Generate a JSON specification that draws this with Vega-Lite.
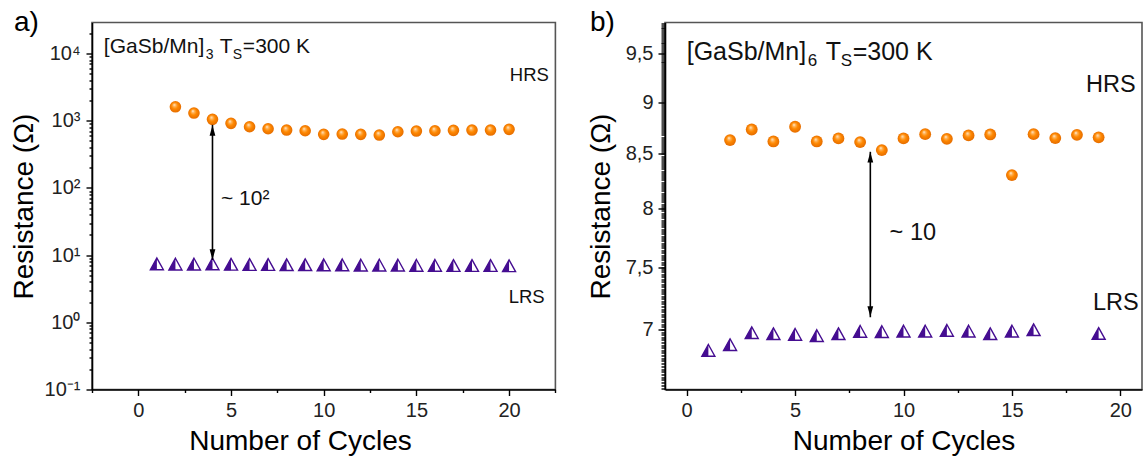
{
  "$schema": "https://vega.github.io/schema/vega-lite/v6.json",
  "background": "white",
  "padding": {"left": 9, "top": 7.5, "right": 0, "bottom": 0},
  "config": {
    "font": "Liberation Sans",
    "view": {"stroke": "#555", "strokeWidth": 1.6},
    "axis": {"grid": false, "domainColor": "#000", "domainWidth": 1.6, "tickColor": "#000", "tickWidth": 1.4, "labelFont": "Liberation Sans", "labelFontSize": 20, "labelColor": "#222", "titleFont": "Liberation Sans", "titleFontSize": 28, "titleFontWeight": "normal", "titleColor": "#000", "labelOverlap": false, "labelFlush": false, "labelBound": false},
    "concat": {"spacing": 29}
  },
  "datasets": {
    "a_hrs": [{"cycle":2,"R":1615},{"cycle":3,"R":1302},{"cycle":4,"R":1049},{"cycle":5,"R":915},{"cycle":6,"R":814},{"cycle":7,"R":760},{"cycle":8,"R":727},{"cycle":9,"R":710},{"cycle":10,"R":628},{"cycle":11,"R":634},{"cycle":12,"R":628},{"cycle":13,"R":613},{"cycle":14,"R":686},{"cycle":15,"R":703},{"cycle":16,"R":710},{"cycle":17,"R":720},{"cycle":18,"R":727},{"cycle":19,"R":727},{"cycle":20,"R":745}],
    "a_lrs": [{"cycle":1,"R":7.4},{"cycle":2,"R":7.35},{"cycle":3,"R":7.35},{"cycle":4,"R":7.4},{"cycle":5,"R":7.3},{"cycle":6,"R":7.25},{"cycle":7,"R":7.25},{"cycle":8,"R":7.2},{"cycle":9,"R":7.2},{"cycle":10,"R":7.15},{"cycle":11,"R":7.15},{"cycle":12,"R":7.1},{"cycle":13,"R":7.1},{"cycle":14,"R":7.1},{"cycle":15,"R":7.05},{"cycle":16,"R":7.05},{"cycle":17,"R":7.0},{"cycle":18,"R":7.0},{"cycle":19,"R":7.0},{"cycle":20,"R":6.95}],
    "a_arrow": [{"cycle":4,"R":8.5,"R2":870}],
    "a_heads": [{"cycle":4,"R":714,"dir":"up"},{"cycle":4,"R":10.2,"dir":"down"}],
    "a_states": [{"cycle":20.04,"R":4786,"label":"HRS"},{"cycle":19.98,"R":2.38,"label":"LRS"}],
    "a_ratio": [{"cycle":4.46,"R":68.4,"label":"~ 10²"}],
    "a_tag": [{"cycle":-6.71,"R":28440,"label":"a)"}],
    "a_title": [{"cycle":-1.86,"R":12490,"main":"[GaSb/Mn]","n":"3","t":"T","s":"S","rest":"=300 K"}],
    "b_hrs": [{"cycle":2,"R":8.631},{"cycle":3,"R":8.733},{"cycle":4,"R":8.618},{"cycle":5,"R":8.759},{"cycle":6,"R":8.618},{"cycle":7,"R":8.647},{"cycle":8,"R":8.612},{"cycle":9,"R":8.536},{"cycle":10,"R":8.647},{"cycle":11,"R":8.688},{"cycle":12,"R":8.643},{"cycle":13,"R":8.676},{"cycle":14,"R":8.685},{"cycle":15,"R":8.303},{"cycle":16,"R":8.688},{"cycle":17,"R":8.65},{"cycle":18,"R":8.681},{"cycle":19,"R":8.657}],
    "b_lrs": [{"cycle":1,"R":6.84},{"cycle":2,"R":6.883},{"cycle":3,"R":6.975},{"cycle":4,"R":6.967},{"cycle":5,"R":6.962},{"cycle":6,"R":6.952},{"cycle":7,"R":6.967},{"cycle":8,"R":6.985},{"cycle":9,"R":6.983},{"cycle":10,"R":6.987},{"cycle":11,"R":6.987},{"cycle":12,"R":6.993},{"cycle":13,"R":6.987},{"cycle":14,"R":6.967},{"cycle":15,"R":6.987},{"cycle":16,"R":6.998},{"cycle":19,"R":6.969}],
    "b_arrow": [{"cycle":8.47,"R":7.095,"R2":8.52}],
    "b_heads": [{"cycle":8.47,"R":8.469,"dir":"up"},{"cycle":8.47,"R":7.14,"dir":"down"}],
    "b_states": [{"cycle":18.42,"R":9.172,"label":"HRS"},{"cycle":18.74,"R":7.211,"label":"LRS"}],
    "b_ratio": [{"cycle":9.36,"R":7.784,"label":"~ 10"}],
    "b_tag": [{"cycle":-4.46,"R":9.824,"label":"b)"}],
    "b_title": [{"cycle":0,"R":9.51,"main":"[GaSb/Mn]","n":"6","t":"T","s":"S","rest":"=300 K"}]
  },
  "hconcat": [
    {
      "width": 463.4,
      "height": 367,
      "resolve": {"scale": {"x": "independent", "y": "independent"}},
      "layer": [
        {
          "encoding": {
            "x": {"field": "cycle", "type": "quantitative", "scale": {"domain": [-2.5, 22.5], "nice": false, "zero": false},
              "axis": {"title": "Number of Cycles", "titleX": 208, "titlePadding": 7, "labelPadding": 5, "tickSize": 6, "values": [0, 5, 10, 15, 20], "format": "d"}},
            "y": {"field": "R", "type": "quantitative", "scale": {"type": "log", "domain": [0.1, 29000], "nice": false},
              "axis": {"title": "Resistance (Ω)", "titlePadding": 6.5, "minExtent": 47, "maxExtent": 47, "labelPadding": 6, "tickSize": 6,
                "values": [0.1, 1, 10, 100, 1000, 10000],
                "labelExpr": "datum.value === 10000 ? '10⁴' : datum.value === 1000 ? '10³' : datum.value === 100 ? '10²' : datum.value === 10 ? '10¹' : datum.value === 1 ? '10⁰' : '10⁻¹'"}}
          },
          "layer": [
            {"data": {"name": "a_hrs"}, "mark": {"type": "point", "shape": "circle", "filled": true, "size": 135, "opacity": 1, "strokeWidth": 0,
              "fill": {"gradient": "radial", "x1": 0.4, "y1": 0.32, "r1": 0, "x2": 0.5, "y2": 0.5, "r2": 0.55, "stops": [{"offset": 0, "color": "#fff4e6"}, {"offset": 0.22, "color": "#ffb45a"}, {"offset": 0.5, "color": "#ff8800"}, {"offset": 1, "color": "#e06800"}]}}},
            {"data": {"name": "a_lrs"}, "mark": {"type": "point", "shape": "M0,-0.9L1,0.9L-1,0.9Z", "size": 169, "filled": true, "fill": "white", "stroke": "#450d91", "strokeWidth": 1.4, "opacity": 1}},
            {"data": {"name": "a_lrs"}, "mark": {"type": "point", "shape": "M0,-0.9L-1,0.9L0,0.9Z", "size": 169, "filled": true, "fill": "#450d91", "strokeWidth": 0, "opacity": 1}},
            {"data": {"name": "a_arrow"}, "mark": {"type": "rule", "color": "#000", "strokeWidth": 1.6}, "encoding": {"y2": {"field": "R2"}}},
            {"data": {"name": "a_heads"}, "mark": {"type": "point", "filled": true, "size": 110, "color": "#000", "opacity": 1},
              "encoding": {"shape": {"field": "dir", "type": "nominal", "scale": {"domain": ["up", "down"], "range": ["M0,-1L0.55,1L-0.55,1Z", "M0,1L0.55,-1L-0.55,-1Z"]}, "legend": null}}},
            {"data": {"name": "a_states"}, "mark": {"type": "text", "align": "left", "baseline": "middle", "fontSize": 18.5, "color": "#111"}, "encoding": {"text": {"field": "label"}}},
            {"data": {"name": "a_ratio"}, "mark": {"type": "text", "align": "left", "baseline": "middle", "fontSize": 21, "color": "#111"}, "encoding": {"text": {"field": "label"}}},
            {"data": {"name": "a_tag"}, "mark": {"type": "text", "align": "left", "baseline": "middle", "fontSize": 28, "color": "#000"}, "encoding": {"text": {"field": "label"}}},
            {"data": {"name": "a_title"}, "mark": {"type": "text", "align": "left", "baseline": "middle", "fontSize": 21, "color": "#111"}, "encoding": {"text": {"field": "main"}}},
            {"data": {"name": "a_title"}, "mark": {"type": "text", "align": "left", "baseline": "middle", "fontSize": 14, "dx": 102, "dy": 8, "color": "#111"}, "encoding": {"text": {"field": "n"}}},
            {"data": {"name": "a_title"}, "mark": {"type": "text", "align": "left", "baseline": "middle", "fontSize": 21, "dx": 116, "color": "#111"}, "encoding": {"text": {"field": "t"}}},
            {"data": {"name": "a_title"}, "mark": {"type": "text", "align": "left", "baseline": "middle", "fontSize": 14, "dx": 129, "dy": 8, "color": "#111"}, "encoding": {"text": {"field": "s"}}},
            {"data": {"name": "a_title"}, "mark": {"type": "text", "align": "left", "baseline": "middle", "fontSize": 21, "dx": 139, "color": "#111"}, "encoding": {"text": {"field": "rest"}}}
          ]
        },
        {
          "data": {"name": "a_hrs"},
          "mark": {"type": "point", "opacity": 0},
          "encoding": {
            "x": {"field": "cycle", "type": "quantitative", "scale": {"domain": [-2.5, 22.5], "nice": false, "zero": false},
              "axis": {"orient": "bottom", "title": null, "labels": false, "domain": false, "tickSize": 3, "values": [-2.5, 2.5, 7.5, 12.5, 17.5, 22.5]}},
            "y": {"field": "R", "type": "quantitative", "scale": {"type": "log", "domain": [0.1, 29000], "nice": false},
              "axis": {"orient": "left", "title": null, "labels": false, "domain": false, "tickSize": 3,
                "values": [0.2,0.3,0.4,0.5,0.6,0.7,0.8,0.9,2,3,4,5,6,7,8,9,20,30,40,50,60,70,80,90,200,300,400,500,600,700,800,900,2000,3000,4000,5000,6000,7000,8000,9000,20000]}}
          }
        }
      ]
    },
    {
      "width": 477,
      "height": 367,
      "resolve": {"scale": {"x": "independent", "y": "independent"}},
      "layer": [
        {
          "encoding": {
            "x": {"field": "cycle", "type": "quantitative", "scale": {"domain": [-1, 21], "nice": false, "zero": false},
              "axis": {"title": "Number of Cycles", "titlePadding": 7, "labelPadding": 5, "tickSize": 6, "values": [0, 5, 10, 15, 20], "format": "d"}},
            "y": {"field": "R", "type": "quantitative", "scale": {"type": "log", "domain": [6.55, 9.83], "nice": false, "zero": false},
              "axis": {"title": "Resistance (Ω)", "titlePadding": 8.5, "minExtent": 41, "maxExtent": 41, "labelPadding": 5, "tickSize": 7,
                "values": [7, 7.5, 8, 8.5, 9, 9.5],
                "labelExpr": "replace(format(datum.value, '.1~f'), '.', ',')"}}
          },
          "layer": [
            {"data": {"name": "b_hrs"}, "mark": {"type": "point", "shape": "circle", "filled": true, "size": 140, "opacity": 1, "strokeWidth": 0,
              "fill": {"gradient": "radial", "x1": 0.4, "y1": 0.32, "r1": 0, "x2": 0.5, "y2": 0.5, "r2": 0.55, "stops": [{"offset": 0, "color": "#fff4e6"}, {"offset": 0.22, "color": "#ffb45a"}, {"offset": 0.5, "color": "#ff8800"}, {"offset": 1, "color": "#e06800"}]}}},
            {"data": {"name": "b_lrs"}, "mark": {"type": "point", "shape": "M0,-0.9L1,0.9L-1,0.9Z", "size": 169, "filled": true, "fill": "white", "stroke": "#450d91", "strokeWidth": 1.4, "opacity": 1}},
            {"data": {"name": "b_lrs"}, "mark": {"type": "point", "shape": "M0,-0.9L-1,0.9L0,0.9Z", "size": 169, "filled": true, "fill": "#450d91", "strokeWidth": 0, "opacity": 1}},
            {"data": {"name": "b_arrow"}, "mark": {"type": "rule", "color": "#000", "strokeWidth": 1.6}, "encoding": {"y2": {"field": "R2"}}},
            {"data": {"name": "b_heads"}, "mark": {"type": "point", "filled": true, "size": 110, "color": "#000", "opacity": 1},
              "encoding": {"shape": {"field": "dir", "type": "nominal", "scale": {"domain": ["up", "down"], "range": ["M0,-1L0.55,1L-0.55,1Z", "M0,1L0.55,-1L-0.55,-1Z"]}, "legend": null}}},
            {"data": {"name": "b_states"}, "mark": {"type": "text", "align": "left", "baseline": "middle", "fontSize": 23.5, "color": "#111"}, "encoding": {"text": {"field": "label"}}},
            {"data": {"name": "b_ratio"}, "mark": {"type": "text", "align": "left", "baseline": "middle", "fontSize": 23.5, "color": "#111"}, "encoding": {"text": {"field": "label"}}},
            {"data": {"name": "b_tag"}, "mark": {"type": "text", "align": "left", "baseline": "middle", "fontSize": 28, "color": "#000"}, "encoding": {"text": {"field": "label"}}},
            {"data": {"name": "b_title"}, "mark": {"type": "text", "align": "left", "baseline": "middle", "fontSize": 25, "color": "#111"}, "encoding": {"text": {"field": "main"}}},
            {"data": {"name": "b_title"}, "mark": {"type": "text", "align": "left", "baseline": "middle", "fontSize": 17, "dx": 121, "dy": 9, "color": "#111"}, "encoding": {"text": {"field": "n"}}},
            {"data": {"name": "b_title"}, "mark": {"type": "text", "align": "left", "baseline": "middle", "fontSize": 25, "dx": 139, "color": "#111"}, "encoding": {"text": {"field": "t"}}},
            {"data": {"name": "b_title"}, "mark": {"type": "text", "align": "left", "baseline": "middle", "fontSize": 17, "dx": 154, "dy": 9, "color": "#111"}, "encoding": {"text": {"field": "s"}}},
            {"data": {"name": "b_title"}, "mark": {"type": "text", "align": "left", "baseline": "middle", "fontSize": 25, "dx": 166, "color": "#111"}, "encoding": {"text": {"field": "rest"}}}
          ]
        },
        {
          "data": {"name": "b_hrs"},
          "mark": {"type": "point", "opacity": 0},
          "encoding": {
            "x": {"field": "cycle", "type": "quantitative", "scale": {"domain": [-1, 21], "nice": false, "zero": false},
              "axis": {"orient": "bottom", "title": null, "labels": false, "domain": false, "tickSize": 3, "values": [2.5, 7.5, 12.5, 17.5]}},
            "y": {"field": "R", "type": "quantitative", "scale": {"type": "log", "domain": [6.55, 9.83], "nice": false, "zero": false},
              "axis": {"orient": "left", "title": null, "labels": false, "domain": false, "tickSize": 4, "tickCount": 150}}
          }
        }
      ]
    }
  ]
}
